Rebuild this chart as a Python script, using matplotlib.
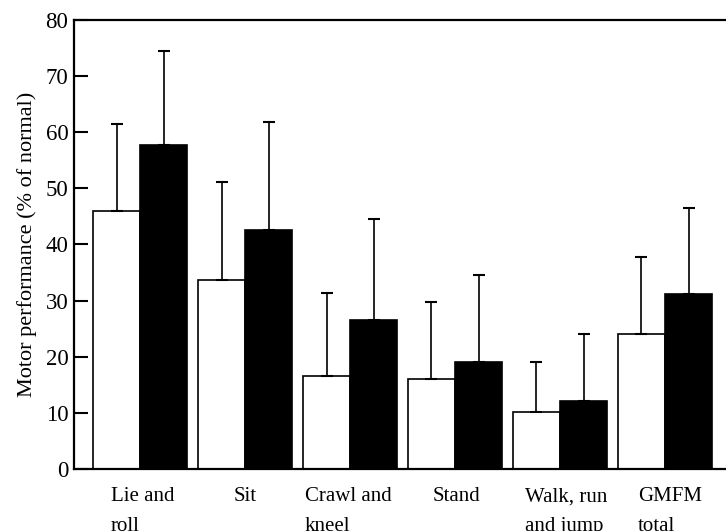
import matplotlib
matplotlib.use("Agg")
import matplotlib.pyplot as plt
import numpy as np
from matplotlib.transforms import blended_transform_factory, ScaledTranslation

categories = ["Lie and\nroll", "Sit", "Crawl and\nkneel", "Stand", "Walk, run\nand jump", "GMFM\ntotal"]
white_mean = [46.0, 33.6, 16.6, 16.0, 10.1, 24.0]
white_sd = [15.5, 17.6, 14.8, 13.8, 9.0, 13.7]
black_mean = [57.8, 42.6, 26.6, 19.0, 12.2, 31.2]
black_sd = [16.6, 19.3, 17.9, 15.5, 11.9, 15.3]
yticks = [0, 10, 20, 30, 40, 50, 60, 70, 80]
ylabel = "Motor performance (% of normal)"

plt.rcParams['font.family'] = ['Liberation Serif', 'DejaVu Serif']

fig = plt.figure(figsize=(7.26, 5.31), dpi=100)
ax = fig.add_axes([74/726, 1 - 469/531, 1 - 74/726, (469 - 20)/531])

x = np.arange(len(categories))
w = 0.45
zeros = np.zeros(len(categories))
ax.bar(x - w/2, white_mean, width=w, color='white', edgecolor='black', linewidth=1.2, zorder=2)
ax.bar(x + w/2, black_mean, width=w, color='black', edgecolor='black', linewidth=1.2, zorder=2)
ax.errorbar(x - w/2, white_mean, yerr=[zeros, white_sd], fmt='none', ecolor='black',
            elinewidth=1.2, capsize=4, capthick=1.5, zorder=3)
ax.errorbar(x + w/2, black_mean, yerr=[zeros, black_sd], fmt='none', ecolor='black',
            elinewidth=1.2, capsize=4, capthick=1.5, zorder=1)

ax.set_xlim(-0.63, 5.58)
ax.set_ylim(0, 80)
ax.set_yticks(yticks)
ax.set_yticklabels([str(t) for t in yticks], fontsize=16.5)
ax.tick_params(axis='y', direction='in', length=10, width=1.5, pad=4)
ax.set_xticks([])
for s in ['left', 'top', 'bottom']:
    ax.spines[s].set_linewidth(1.6)
ax.spines['right'].set_visible(False)
ax.set_ylabel(ylabel, fontsize=16, labelpad=6)

# category labels (left-aligned blocks as in original)
label_offsets = [-0.28, -0.114, -0.43, -0.21, -0.333, -0.257]
trans = blended_transform_factory(ax.transData, ax.transAxes) + ScaledTranslation(0, -13/72, fig.dpi_scale_trans)
for i, (cat, off) in enumerate(zip(categories, label_offsets)):
    ax.text(i + off, 0, cat, transform=trans, ha='left', va='top', fontsize=15,
            linespacing=1.75, clip_on=False)

fig.savefig("out.png", dpi=100)
